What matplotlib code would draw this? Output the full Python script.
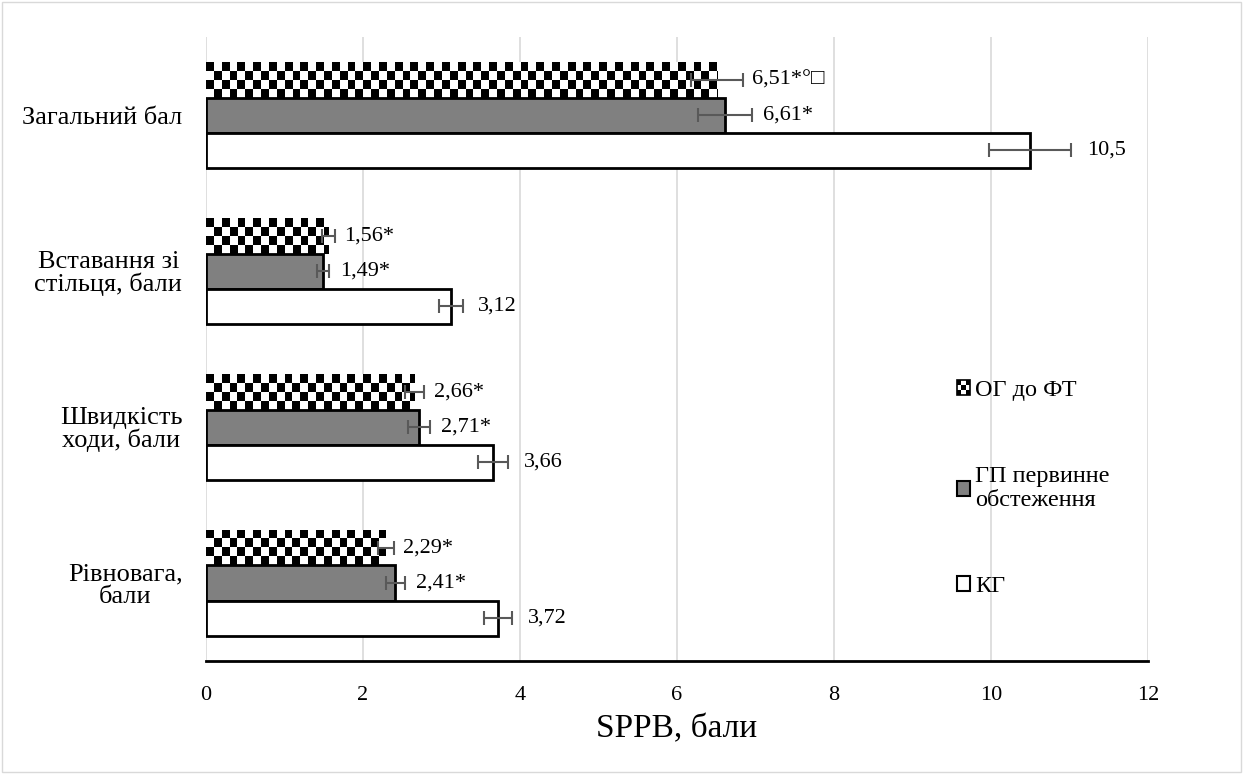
import numpy as np
import matplotlib.pyplot as plt
from matplotlib.patches import Patch, Rectangle
from matplotlib.legend_handler import HandlerBase

plt.rcParams['font.family'] = 'Liberation Serif'

categories = ['Загальний бал', 'Вставання зі\nстільця, бали',
              'Швидкість\nходи, бали', 'Рівновага,\nбали']
series = ['ОГ до ФТ', 'ГП первинне\nобстеження', 'КГ']

og_vals = [6.51, 1.56, 2.66, 2.29]
og_err = [0.33, 0.08, 0.12, 0.10]
og_labels = ['6,51*°□', '1,56*', '2,66*', '2,29*']

gp_vals = [6.61, 1.49, 2.71, 2.41]
gp_err = [0.34, 0.08, 0.14, 0.12]
gp_labels = ['6,61*', '1,49*', '2,71*', '2,41*']

kg_vals = [10.5, 3.12, 3.66, 3.72]
kg_err = [0.52, 0.15, 0.19, 0.18]
kg_labels = ['10,5', '3,12', '3,66', '3,72']


class CheckerHandler(HandlerBase):
    # small checkerboard square for the legend
    def create_artists(self, legend, orig_handle, xdescent, ydescent, width, height,
                       fontsize, trans):
        arts = []
        k = 3
        cw, ch = width / k, height / k
        for r in range(k):
            for c in range(k):
                col = 'black' if (r + c) % 2 == 0 else 'white'
                arts.append(Rectangle((-xdescent + c * cw, -ydescent + r * ch), cw, ch,
                                      facecolor=col, edgecolor='none', transform=trans))
        arts.append(Rectangle((-xdescent, -ydescent), width, height, fill=False,
                              edgecolor='black', linewidth=1.2, transform=trans))
        return arts


fig = plt.figure(figsize=(12.43, 7.74), dpi=100)
ax = fig.add_axes([0.1657, 0.146, 0.7579, 0.806])

n = len(categories)
y = np.arange(n)
h = 0.225
ecol = '#595959'
fs = 16

# checkered bars (ОГ)
for i, (v, e) in enumerate(zip(og_vals, og_err)):
    yc = y[i] - h
    rect = Rectangle((0, yc - h / 2), v, h, facecolor='white', edgecolor='none')
    ax.add_patch(rect)
    cell = 0.1
    ncols = int(np.ceil(v / cell))
    nrows = 4
    board = (np.add.outer(np.arange(nrows), np.arange(ncols)) % 2).astype(float)
    im = ax.imshow(board, cmap='gray', extent=[0, ncols * cell, yc + h / 2, yc - h / 2],
                   aspect='auto', interpolation='nearest', zorder=2)
    im.set_clip_path(rect)
    ax.errorbar(v, yc, xerr=e, fmt='none', ecolor=ecol, capsize=5, elinewidth=1.5,
                capthick=1.5, zorder=4)
    ax.text(v + e + 0.12, yc, og_labels[i], va='center', ha='left', fontsize=fs,
            family=['Liberation Serif', 'DejaVu Sans'])

ax.barh(y, gp_vals, height=h, color='#808080', edgecolor='black', linewidth=2, zorder=3)
ax.errorbar(gp_vals, y, xerr=gp_err, fmt='none', ecolor=ecol, capsize=5,
            elinewidth=1.5, capthick=1.5, zorder=4)
for i, v in enumerate(gp_vals):
    ax.text(v + gp_err[i] + 0.14, y[i], gp_labels[i], va='center', ha='left', fontsize=fs)

ax.barh(y + h, kg_vals, height=h, color='white', edgecolor='black', linewidth=2, zorder=3)
ax.errorbar(kg_vals, y + h, xerr=kg_err, fmt='none', ecolor=ecol, capsize=5,
            elinewidth=1.5, capthick=1.5, zorder=4)
for i, v in enumerate(kg_vals):
    ax.text(v + kg_err[i] + 0.2, y[i] + h, kg_labels[i], va='center', ha='left', fontsize=fs)

ax.set_xlim(0, 12)
ax.set_ylim(n - 0.5, -0.5)
ax.set_xticks(range(0, 13, 2))
ax.set_yticks(y)
ax.set_yticklabels(categories, fontsize=19, multialignment='center', linespacing=1.0)
ax.tick_params(axis='both', length=0)
ax.tick_params(axis='x', pad=18, labelsize=16)
ax.tick_params(axis='y', pad=17)
ax.set_xlabel('SPPB, бали', fontsize=24, labelpad=6)
ax.grid(axis='x', color='#d9d9d9', linewidth=1.2, zorder=0)
ax.set_axisbelow(True)
for s in ['top', 'right', 'left']:
    ax.spines[s].set_visible(False)
ax.spines['bottom'].set_linewidth(2)
ax.spines['bottom'].set_zorder(5)

og_handle = Patch(facecolor='white', edgecolor='black')
handles = [og_handle,
           Patch(facecolor='#808080', edgecolor='black', linewidth=1.5),
           Patch(facecolor='white', edgecolor='black', linewidth=1.5)]
ax.legend(handles, series, loc='upper left', bbox_to_anchor=(0.774, 0.485),
          frameon=False, fontsize=17.5, handlelength=0.55, handleheight=0.55,
          handletextpad=0.2, labelspacing=2.67,
          handler_map={og_handle: CheckerHandler()})

fig.patches.append(Rectangle((0.002, 0.002), 0.996, 0.996, transform=fig.transFigure,
                             fill=False, edgecolor='#d9d9d9', linewidth=1))
fig.savefig('out.png', dpi=100)
